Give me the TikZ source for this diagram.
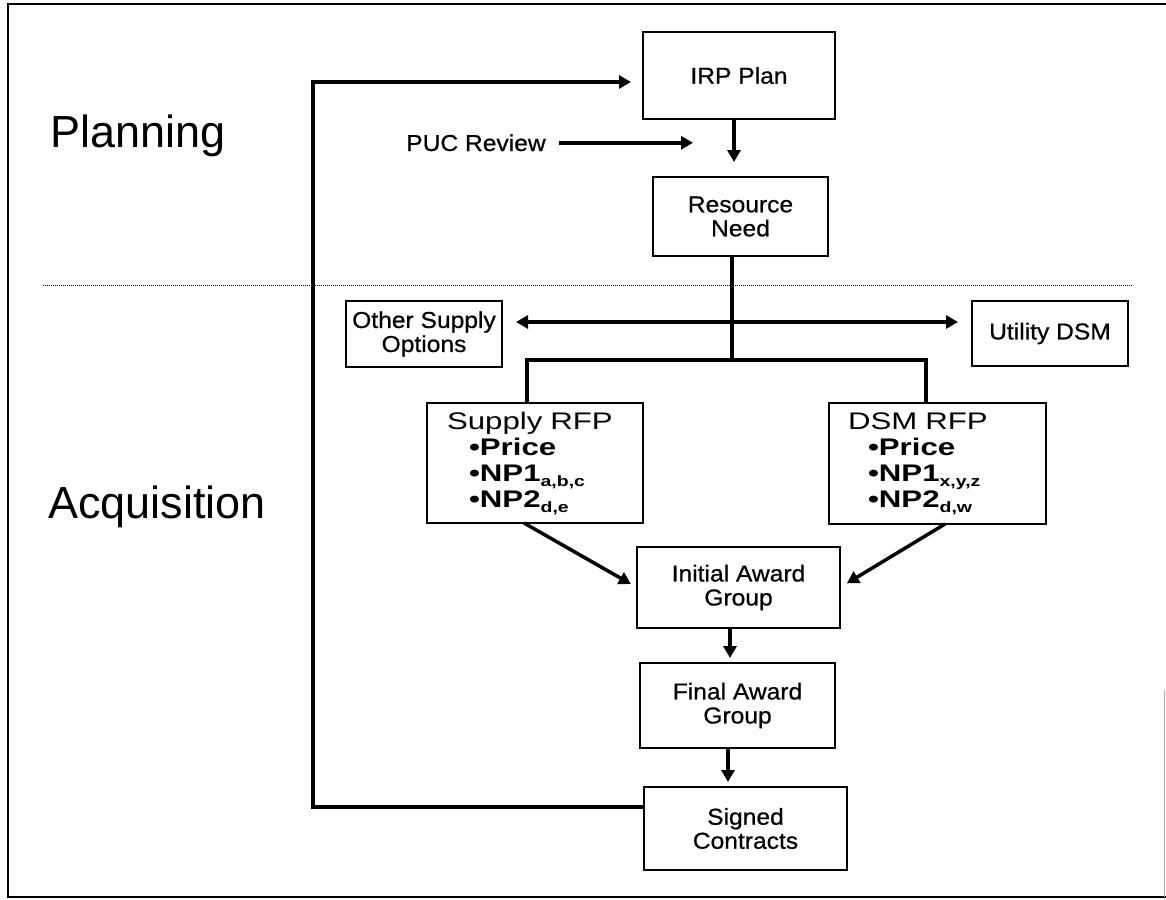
\documentclass[tikz,border=0pt]{standalone}
\usepackage{fontspec}
\setmainfont{Liberation Sans}
\newfontfamily\boxfont[FakeStretch=1.07,FakeBold=0.7]{Liberation Sans}
\newfontfamily\rfpfont[FakeStretch=1.3]{Liberation Sans}
\usetikzlibrary{arrows.meta}
\newcommand\rfpsub[1]{\raisebox{-5pt}{\fontsize{15}{15}\selectfont #1}}
\begin{document}
\begin{tikzpicture}[x=1pt,y=-1pt,
  box/.style={draw, line width=1.3pt, inner sep=0pt, outer sep=0pt, align=center,
    font=\boxfont\fontsize{23}{24}\selectfont},
  rfpbox/.style={draw, line width=1.3pt, inner ysep=0pt, outer sep=0pt, align=left,
    font=\rfpfont\fontsize{24}{26}\selectfont},
  arr/.style={line width=3.5pt, -{Triangle[length=12pt,width=13pt]}},
  dblarr/.style={line width=3.5pt, {Triangle[length=12pt,width=13pt]}-{Triangle[length=12pt,width=13pt]}},
  heavy/.style={line width=3.5pt},
  phase/.style={font=\fontsize{45}{45}\selectfont, anchor=base west, inner sep=0pt},
  lbl/.style={font=\boxfont\fontsize{23}{24}\selectfont, anchor=base, inner sep=0pt},
  dotline/.style={line width=1pt, dash pattern=on 1.2pt off 0.8pt},
  frame/.style={line width=2.5pt}]
\useasboundingbox (0,0) rectangle (1166,899);

% frame and divider
\draw[frame] (1166,4) -- (8,4) -- (8,897) -- (1166,897);
\draw[gray!60, line width=0.8pt] (1164,690) -- (1164,897);
\draw[dotline] (43,285) -- (1133,285);

% phase labels
\node[phase] (planning) at (50,147) {Planning};
\node[phase] (acq) at (48,518) {Acquisition};

% boxes
\node[box, minimum width=192pt, minimum height=87pt] (irp) at (739,75.5) {IRP Plan};
\node[box, minimum width=175pt, minimum height=79pt] (rn) at (740.5,216.5) {Resource\\Need};
\node[box, minimum width=156pt, minimum height=66pt] (oso) at (424,334) {Other Supply\\Options};
\node[box, minimum width=156pt, minimum height=65pt] (udsm) at (1050,333.5) {Utility DSM};
\node[rfpbox, minimum width=216pt, minimum height=120pt, inner xsep=20pt, text width=176pt] (srfp) at (535,463)
  {Supply RFP\\
   \hspace*{22pt}{\bfseries •Price}\\
   \hspace*{22pt}{\bfseries •NP1\rfpsub{a,b,c}}\\
   \hspace*{22pt}{\bfseries •NP2\rfpsub{d,e}}};
\node[rfpbox, minimum width=217pt, minimum height=121pt, inner xsep=19pt, text width=179pt] (drfp) at (937.5,463.5)
  {DSM RFP\\
   \hspace*{20pt}{\bfseries •Price}\\
   \hspace*{20pt}{\bfseries •NP1\rfpsub{x,y,z}}\\
   \hspace*{20pt}{\bfseries •NP2\rfpsub{d,w}}};
\node[box, minimum width=203pt, minimum height=81pt] (iag) at (738.5,587.5) {Initial Award\\Group};
\node[box, minimum width=195pt, minimum height=85pt] (fag) at (737.5,705.5) {Final Award\\Group};
\node[box, minimum width=203pt, minimum height=83pt] (sc) at (745.5,828.5) {Signed\\Contracts};

% PUC review
\node[lbl] (puc) at (476,151) {PUC Review};
\coordinate (pucend) at (693,143);
\draw[arr, shorten <=13pt] (puc.east) -- (puc.east -| pucend);

% planning flow
\draw[arr, shorten >=15pt] ([xshift=-5pt]irp.south) -- ([xshift=-6.5pt]rn.north);

% bus
\coordinate (j) at (732,360);
\coordinate (bl) at (527,360);
\coordinate (br) at (926,360);
\draw[heavy] ([xshift=-8.5pt]rn.south) -- (j);
\draw[heavy, line join=miter] (srfp.north -| bl) -- (bl) -- (br) -- (drfp.north -| br);

% double arrow
\coordinate (darr) at (0,322);
\draw[dblarr, shorten <=14pt, shorten >=14pt] (oso.east |- darr) -- (udsm.west |- darr);

% to initial award
\draw[arr, shorten >=7pt] ([xshift=-11pt]srfp.south) -- (iag.west);
\draw[arr, shorten >=8pt] ([xshift=7.5pt]drfp.south) -- (iag.east);

% down the chain
\draw[arr, shorten >=5pt] ([xshift=-8.5pt]iag.south) -- ([xshift=-7.5pt]fag.north);
\draw[arr, shorten >=5pt] ([xshift=-9.5pt]fag.south) -- ([xshift=-17.5pt]sc.north);

% feedback loop
\coordinate (fbl) at (313,807);
\coordinate (fbt) at (313,82);
\draw[arr, line join=miter, shorten >=12pt] ([yshift=21.5pt]sc.west) -- (fbl) -- (fbt) -- ([yshift=-6.5pt]irp.west);
\end{tikzpicture}
\end{document}
